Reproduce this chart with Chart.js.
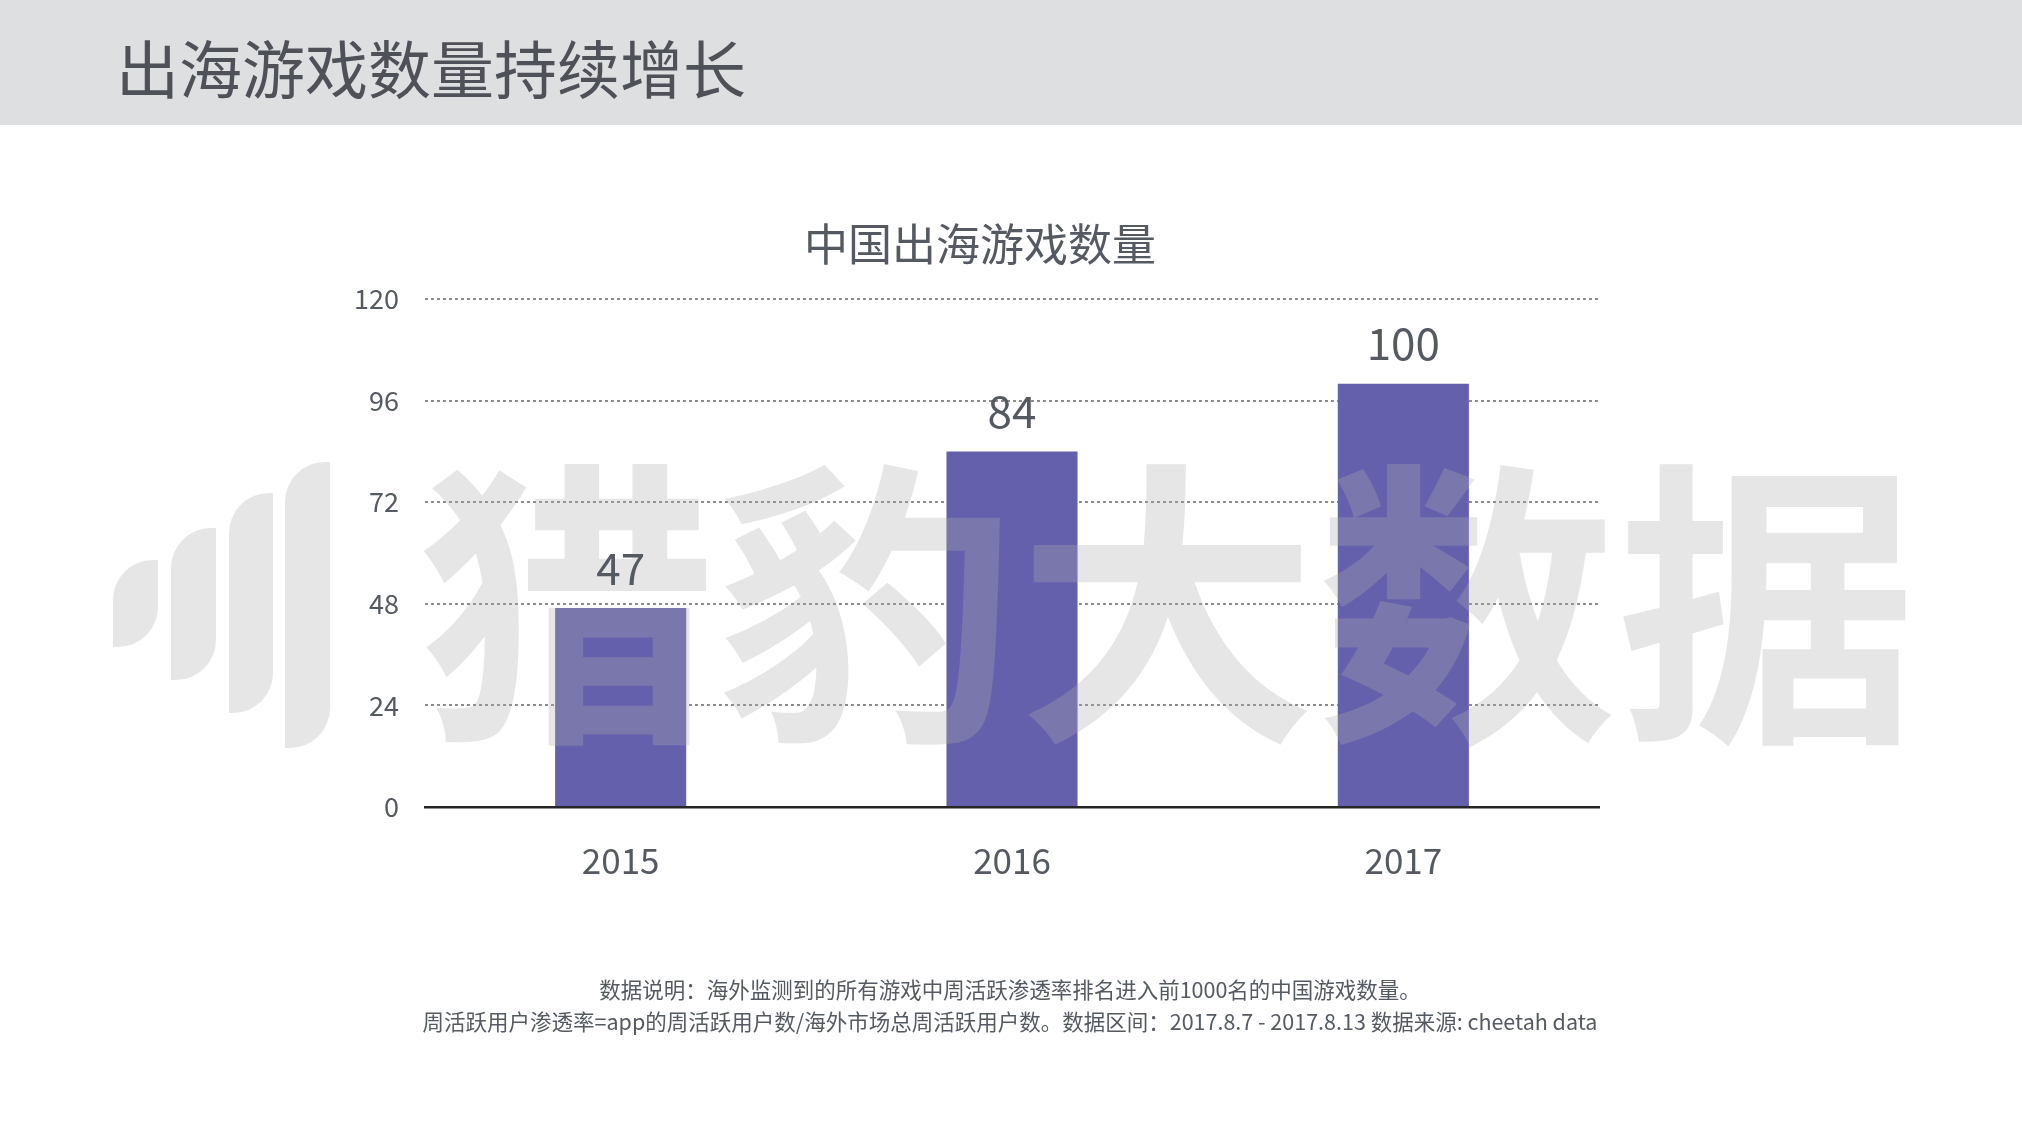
<!DOCTYPE html>
<html>

<head>
    <meta charset="utf-8">
    <title>出海游戏数量持续增长</title>
    <script src="https://cdn.jsdelivr.net/npm/chart.js@4.4.1/dist/chart.umd.min.js"></script>
    <style>
        html, body { margin: 0; padding: 0; background: #fff; }
        body { width: 2022px; height: 1128px; position: relative; overflow: hidden; font-family: "Noto Sans CJK SC", "Noto Sans", sans-serif; }
        #header { position: absolute; left: 0; top: 0; width: 2022px; height: 125px; background: #dedfe1; }
        #header h1 { position: absolute; left: 116px; top: 34px; margin: 0; font-size: 63px; line-height: 63px; font-weight: 400; color: #4f5158; }
        #chartTitle { position: absolute; left: 0; width: 1960px; top: 220px; text-align: center; font-size: 44px; line-height: 44px; color: #555a62; }
        #note { position: absolute; left: 0; width: 2020px; top: 973px; text-align: center; font-size: 21.5px; line-height: 32px; color: #555a62; }
        #wrap { position: absolute; left: 0; top: 0; width: 2022px; height: 1128px; }
    </style>
</head>

<body>
    <div id="header"><h1>出海游戏数量持续增长</h1></div>
    <div id="wrap"><canvas id="myChart" width="2022" height="1128"></canvas></div>
    <div id="chartTitle">中国出海游戏数量</div>
    <div id="note">数据说明：海外监测到的所有游戏中周活跃渗透率排名进入前1000名的中国游戏数量。<br>周活跃用户渗透率=app的周活跃用户数/海外市场总周活跃用户数。数据区间：2017.8.7 - 2017.8.13 数据来源: cheetah data</div>

    <script>
        // data
        var years = ['2015', '2016', '2017'];
        var gameCounts = [47, 84, 100];
        var yTicks = [0, 24, 48, 72, 96, 120];
        var watermarkText = '猎豹大数据';

        var textColor = '#555a62';

        // big grey watermark laid over the bars, then the value labels on top
        var overlayPlugin = {
            id: 'overlay',
            afterDatasetsDraw: function (chart) {
                var ctx = chart.ctx;
                ctx.save();
                ctx.fillStyle = 'rgba(172,172,172,0.3)';
                // logo bars
                var logo = [[113, 560, 45, 87], [171, 528, 45, 152], [229, 493, 44, 220], [285, 462, 45, 286]];
                logo.forEach(function (b) {
                    ctx.beginPath();
                    ctx.roundRect(b[0], b[1], b[2], b[3], [40, 0, 40, 0]);
                    ctx.fill();
                });
                ctx.font = '700 300px "Noto Sans CJK SC"';
                ctx.textAlign = 'center';
                ctx.textBaseline = 'middle';
                ctx.fillText(watermarkText, 1167, 605);

                // value labels
                var meta = chart.getDatasetMeta(0);
                ctx.fillStyle = textColor;
                ctx.font = '44px "Noto Sans CJK SC"';
                meta.data.forEach(function (bar, i) {
                    ctx.fillText(chart.data.datasets[0].data[i], bar.x, bar.y - 40);
                });
                ctx.restore();
            }
        };

        var ctx = document.getElementById('myChart');
        new Chart(ctx, {
            type: 'bar',
            data: {
                labels: years,
                datasets: [{
                    data: gameCounts,
                    backgroundColor: '#6560ac',
                    barPercentage: 0.67,
                    categoryPercentage: 0.5
                }]
            },
            options: {
                responsive: false,
                animation: false,
                devicePixelRatio: 1,
                layout: { padding: { left: 325, right: 423, top: 299, bottom: 221 } },
                plugins: {
                    legend: { display: false },
                    tooltip: { enabled: false },
                    title: { display: false }
                },
                scales: {
                    x: {
                        grid: { display: false, drawTicks: false },
                        border: { display: true, color: '#262626', width: 2.5 },
                        ticks: { color: textColor, font: { family: 'Noto Sans CJK SC', size: 35 }, padding: 33 },
                        afterFit: function (s) { s.height = 100; }
                    },
                    y: {
                        min: 0,
                        max: 120,
                        afterBuildTicks: function (s) { s.ticks = yTicks.map(function (v) { return { value: v }; }); },
                        grid: { color: '#8c8c8c', lineWidth: 2, drawTicks: false },
                        border: { display: false, dash: [3, 3] },
                        ticks: { color: textColor, font: { family: 'Noto Sans CJK SC', size: 27 }, padding: 26 },
                        afterFit: function (s) { s.width = 100; }
                    }
                }
            },
            plugins: [overlayPlugin]
        });
    </script>
</body>

</html>
